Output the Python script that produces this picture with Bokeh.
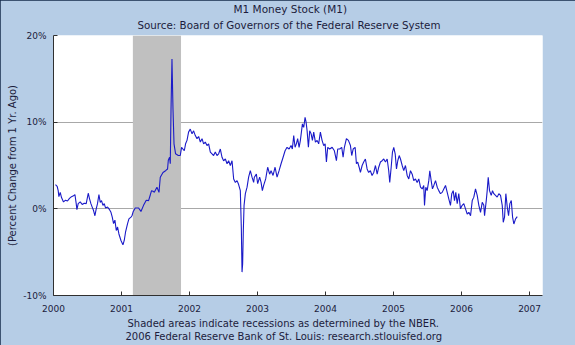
from bokeh.plotting import figure
from bokeh.models import FixedTicker, PrintfTickFormatter, Range1d, Title
from bokeh.embed import file_html
from bokeh.resources import INLINE

# ---------------- data ----------------
dates = [
    2000.029, 2000.054, 2000.069, 2000.079, 2000.099, 2000.118, 2000.147, 2000.177, 2000.206, 2000.235,
    2000.265, 2000.294, 2000.315, 2000.334, 2000.344, 2000.363, 2000.393, 2000.422, 2000.452, 2000.481,
    2000.511, 2000.530, 2000.550, 2000.569, 2000.589, 2000.609, 2000.628, 2000.647, 2000.668, 2000.687,
    2000.706, 2000.727, 2000.746, 2000.765, 2000.795, 2000.824, 2000.845, 2000.864, 2000.883, 2000.903,
    2000.923, 2000.942, 2000.962, 2000.992, 2001.021, 2001.040, 2001.059, 2001.089, 2001.109, 2001.139,
    2001.154, 2001.173, 2001.202, 2001.251, 2001.286, 2001.324, 2001.364, 2001.398, 2001.423, 2001.442,
    2001.471, 2001.482, 2001.521, 2001.551, 2001.570, 2001.610, 2001.648, 2001.677, 2001.688, 2001.707,
    2001.717, 2001.728, 2001.742, 2001.757, 2001.772, 2001.795, 2001.835, 2001.864, 2001.883, 2001.923,
    2001.942, 2001.963, 2001.986, 2002.011, 2002.037, 2002.060, 2002.085, 2002.110, 2002.134, 2002.159,
    2002.184, 2002.207, 2002.232, 2002.257, 2002.281, 2002.306, 2002.331, 2002.354, 2002.379, 2002.404,
    2002.428, 2002.453, 2002.478, 2002.501, 2002.527, 2002.552, 2002.575, 2002.600, 2002.625, 2002.649,
    2002.674, 2002.699, 2002.722, 2002.747, 2002.762, 2002.772, 2002.781, 2002.791, 2002.802, 2002.821,
    2002.846, 2002.869, 2002.894, 2002.919, 2002.943, 2002.953, 2002.983, 2003.002, 2003.031, 2003.052,
    2003.071, 2003.090, 2003.120, 2003.149, 2003.178, 2003.199, 2003.228, 2003.258, 2003.287, 2003.317,
    2003.346, 2003.376, 2003.405, 2003.434, 2003.464, 2003.493, 2003.512, 2003.532, 2003.552, 2003.571,
    2003.590, 2003.611, 2003.630, 2003.660, 2003.679, 2003.699, 2003.714, 2003.729, 2003.748, 2003.767,
    2003.788, 2003.807, 2003.826, 2003.851, 2003.876, 2003.899, 2003.924, 2003.949, 2003.973, 2003.994,
    2004.013, 2004.032, 2004.061, 2004.097, 2004.130, 2004.160, 2004.179, 2004.208, 2004.238, 2004.258,
    2004.277, 2004.307, 2004.336, 2004.366, 2004.385, 2004.406, 2004.435, 2004.454, 2004.473, 2004.494,
    2004.513, 2004.538, 2004.561, 2004.586, 2004.611, 2004.634, 2004.659, 2004.684, 2004.709, 2004.734,
    2004.759, 2004.782, 2004.807, 2004.832, 2004.856, 2004.881, 2004.906, 2004.929, 2004.944, 2004.965,
    2004.984, 2005.003, 2005.024, 2005.043, 2005.062, 2005.083, 2005.102, 2005.127, 2005.150, 2005.175,
    2005.200, 2005.224, 2005.249, 2005.274, 2005.297, 2005.322, 2005.347, 2005.371, 2005.396, 2005.421,
    2005.444, 2005.455, 2005.474, 2005.494, 2005.518, 2005.533, 2005.553, 2005.572, 2005.592, 2005.617,
    2005.642, 2005.665, 2005.690, 2005.715, 2005.739, 2005.764, 2005.789, 2005.812, 2005.837, 2005.856,
    2005.877, 2005.896, 2005.915, 2005.936, 2005.959, 2005.984, 2006.009, 2006.033, 2006.058, 2006.083,
    2006.107, 2006.132, 2006.157, 2006.180, 2006.205, 2006.230, 2006.254, 2006.279, 2006.304, 2006.327,
    2006.338, 2006.363, 2006.377, 2006.392, 2006.411, 2006.436, 2006.455, 2006.474, 2006.499, 2006.524,
    2006.548, 2006.573, 2006.598, 2006.613, 2006.632, 2006.651, 2006.672, 2006.691, 2006.710, 2006.731,
    2006.750, 2006.769, 2006.794, 2006.819,
]
m1_yoy = [
    2.8, 2.6, 2.1, 1.4, 1.9, 1.3, 0.8, 1.0, 0.9, 1.2,
    1.4, 1.5, 1.65, 0.6, -0.1, 0.6, 0.8, 0.5, 0.65, 0.6,
    1.8, 1.15, 0.6, 0.2, -0.2, -0.8, 0.0, 0.6, 1.65, 0.75,
    0.95, 0.4, 0.6, 0.1, 0.2, -0.1, -0.4, -0.95, -1.7, -1.3,
    -2.5, -2.1, -2.9, -3.65, -4.15, -3.65, -2.7, -1.7, -1.15, -0.95,
    -0.8, -0.3, 0.1, 0.1, -0.3, 0.4, 1.0, 0.95, 1.6, 2.1,
    2.0, 1.9, 2.5, 1.9, 3.65, 4.2, 4.4, 4.6, 5.6, 5.95,
    5.2, 11.5, 17.3, 11.5, 7.5, 6.35, 6.15, 6.15, 7.1, 6.7,
    7.5, 7.9, 8.85, 9.2, 8.65, 9.0, 8.45, 8.1, 8.35, 7.7,
    8.1, 7.5, 7.7, 7.3, 7.5, 6.55, 6.35, 6.15, 6.55, 6.15,
    6.35, 6.9, 5.95, 5.55, 5.75, 5.2, 5.55, 5.0, 5.55, 3.45,
    3.05, 3.25, 2.8, 2.1, -2.3, -7.3, -6.35, -2.5, 0.4, 1.75,
    2.5, 3.65, 4.4, 3.65, 3.05, 3.65, 4.0, 2.9, 3.65, 3.05,
    2.1, 2.7, 3.45, 4.8, 4.0, 4.4, 3.85, 4.8, 3.65, 4.4,
    5.2, 5.95, 6.7, 7.1, 6.9, 7.3, 6.9, 8.45, 7.1, 7.5,
    8.1, 7.1, 7.9, 9.8, 9.4, 10.55, 10.0, 9.0, 7.1, 9.0,
    8.65, 7.9, 8.85, 7.7, 7.9, 7.5, 8.85, 7.9, 7.3, 7.5,
    5.4, 7.1, 6.9, 7.1, 6.7, 5.55, 6.9, 6.9, 7.1, 5.95,
    7.1, 8.1, 7.9, 7.3, 6.15, 6.9, 7.1, 5.2, 5.4, 4.8,
    4.2, 5.0, 5.4, 5.75, 4.6, 4.2, 4.4, 3.85, 4.2, 5.0,
    4.0, 4.8, 5.4, 5.55, 5.75, 5.4, 5.75, 4.4, 3.05, 4.8,
    6.55, 7.1, 6.35, 4.6, 5.55, 6.15, 5.75, 5.0, 4.4, 5.0,
    3.85, 3.45, 4.4, 4.0, 3.25, 3.45, 3.05, 3.45, 2.5, 2.3,
    2.7, 0.4, 2.5, 2.1, 3.25, 4.4, 3.25, 2.3, 2.7, 3.25,
    2.5, 2.1, 1.75, 1.9, 2.3, 2.7, 1.9, 1.15, 0.4, 1.75,
    2.1, 0.95, 1.9, 0.6, 1.75, 0.0, 0.4, 0.6, 0.0, -0.6,
    -0.4, -0.8, 0.95, 1.35, 2.3, 1.55, 0.4, -0.4, 0.75, 0.4,
    -0.8, 0.95, 2.1, 3.65, 2.1, 1.55, 2.1, 1.75, 1.55, 1.35,
    1.75, 1.55, 0.4, -1.55, -0.95, 1.75, 0.2, -0.8, 0.6, 0.95,
    -0.95, -1.75, -1.15, -0.9,
]
recession_start = [2001.167]   # Mar 2001
recession_end = [2001.875]     # Nov 2001
year_ticks = [2000, 2001, 2002, 2003, 2004, 2005, 2006, 2007]
pct_ticks = [-10, 0, 10, 20]

title_text = "M1 Money Stock (M1)"
subtitle_text = "Source: Board of Governors of the Federal Reserve System"
ylabel_text = "(Percent Change from 1 Yr. Ago)"
foot1_text = "Shaded areas indicate recessions as determined by the NBER."
foot2_text = "2006 Federal Reserve Bank of St. Louis: research.stlouisfed.org"

# ---------------- styling ----------------
W, H = 575, 345
BG = "#b6cde6"
TXT = "#1c1c3c"
FONT = "DejaVu Sans"

p = figure(width=W, height=H, output_backend="svg", toolbar_location=None,
           x_range=Range1d(2000, 2007.19), y_range=Range1d(-10, 20),
           min_border_left=53, min_border_right=33, min_border_top=35,
           min_border_bottom=50, title=None)
p.border_fill_color = BG
p.background_fill_color = "white"
p.outline_line_color = None
p.styles = {"outline": "2px solid #152a4a", "outline-offset": "-2px"}

# recession shading
p.quad(left=recession_start, right=recession_end, bottom=[-10], top=[20],
       fill_color="#c0c0c0", line_color=None)

# series
p.line(dates, m1_yoy, line_color="#1a1ac8", line_width=1.1)

# axes
for ax in (p.xaxis[0], p.yaxis[0]):
    ax.axis_line_color = "#303030"
    ax.major_tick_line_color = "#303030"
    ax.major_tick_in = 4
    ax.major_tick_out = 0
    ax.minor_tick_line_color = None
    ax.major_label_text_font = FONT
    ax.major_label_text_font_size = "9px"
    ax.major_label_text_color = TXT
p.xaxis.ticker = FixedTicker(ticks=year_ticks)
p.xaxis.major_label_standoff = 9
p.yaxis.ticker = FixedTicker(ticks=pct_ticks)
p.yaxis.formatter = PrintfTickFormatter(format="%d%%")
p.yaxis.major_label_standoff = 7
p.yaxis.axis_label = ylabel_text
p.yaxis.axis_label_text_font = FONT
p.yaxis.axis_label_text_font_size = "10px"
p.yaxis.axis_label_text_font_style = "normal"
p.yaxis.axis_label_text_color = TXT
p.yaxis.axis_label_standoff = 2

p.xgrid.grid_line_color = None
p.ygrid.grid_line_color = "#a8a8a8"
p.ygrid.ticker = FixedTicker(ticks=[0, 10])


def ttl(txt, size, offset, standoff):
    return Title(text=txt, text_font=FONT, text_font_size=size, text_color=TXT,
                 text_font_style="normal", align="left", offset=offset,
                 standoff=standoff)

# above: first added sits closest to the frame
p.add_layout(ttl(subtitle_text, "10.3px", 84, 9), "above")
p.add_layout(ttl(title_text, "10.5px", 180, -4), "above")
# below: after the axis, stacked outward
p.add_layout(ttl(foot1_text, "10px", 74, 2), "below")
p.add_layout(ttl(foot2_text, "10px", 72, -2), "below")

open("out.html", "w").write(file_html(p, INLINE))
